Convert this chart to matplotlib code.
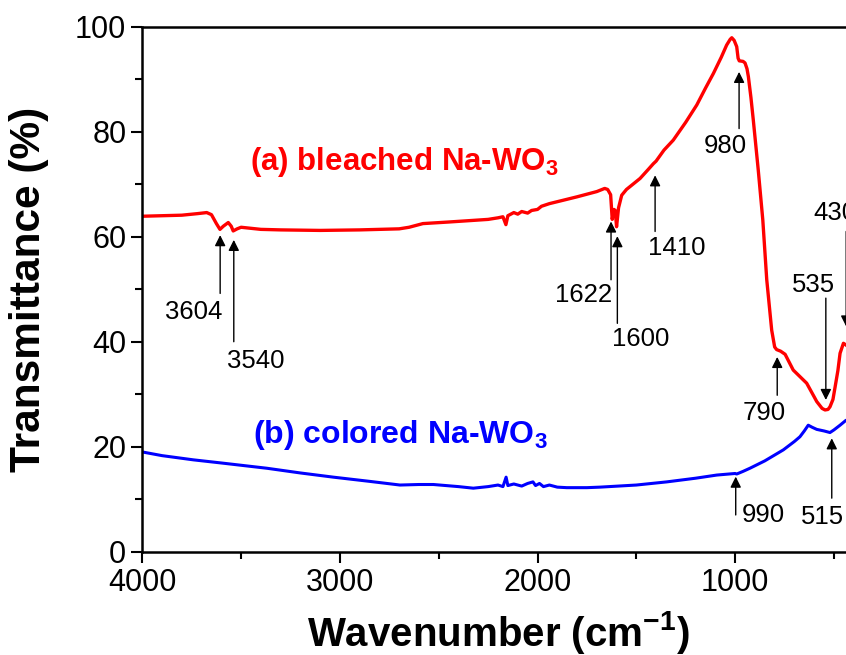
import numpy as np
import matplotlib
matplotlib.use("Agg")
import matplotlib.pyplot as plt

plt.rcParams["font.family"] = ["Liberation Sans", "DejaVu Sans"]
plt.rcParams["mathtext.fontset"] = "custom"
plt.rcParams["mathtext.rm"] = "Liberation Sans"
plt.rcParams["mathtext.bf"] = "Liberation Sans:bold"

# (a) bleached Na-WO3
wn_a = [4000, 3900, 3800, 3720, 3674, 3650, 3625, 3607, 3590, 3565, 3550, 3540,
        3520, 3500, 3450, 3400, 3300, 3100, 2900, 2700, 2650, 2580, 2450, 2330,
        2250, 2200, 2175, 2160, 2150, 2120, 2100, 2080, 2050, 2030, 2000, 1980,
        1940, 1886, 1800, 1700, 1660, 1645, 1630, 1622, 1613, 1607, 1600, 1590,
        1574, 1550, 1481, 1440, 1414, 1400, 1360, 1313, 1250, 1194, 1150, 1110,
        1070, 1043, 1025, 1017, 1005, 992, 985, 979, 960, 950, 940, 933, 920,
        908, 883, 860, 840, 815, 800, 790, 770, 747, 706, 638, 600, 587, 560,
        545, 530, 520, 505, 494, 480, 469, 452, 440, 420, 400]
t_a = [63.9, 64.0, 64.1, 64.4, 64.6, 64.2, 62.5, 61.4, 62.0, 62.7, 62.0, 61.1,
       61.5, 61.8, 61.6, 61.4, 61.3, 61.2, 61.3, 61.5, 61.8, 62.5, 62.8, 63.1,
       63.3, 63.6, 63.8, 62.3, 64.0, 64.6, 64.3, 64.8, 64.5, 65.0, 65.2, 65.8,
       66.3, 66.8, 67.6, 68.6, 69.2, 69.0, 68.0, 63.3, 65.2, 65.0, 61.9, 65.5,
       67.9, 69.0, 71.1, 72.8, 73.9, 74.4, 76.5, 78.4, 81.8, 85.1, 88.3, 91.1,
       94.2, 96.5, 97.6, 97.9, 97.4, 96.2, 94.0, 93.5, 93.4, 93.1, 92.0, 90.5,
       86.5, 82.2, 72.7, 63.2, 51.8, 42.2, 39.0, 38.5, 38.2, 37.6, 34.6, 32.1,
       29.5, 28.6, 27.3, 27.0, 27.1, 27.6, 29.0, 31.4, 34.5, 37.8, 39.7, 39.4,
       38.8, 38.0]

# (b) colored Na-WO3
wn_b = [4000, 3900, 3742, 3600, 3370, 3200, 3033, 2850, 2696, 2600, 2527, 2400,
        2325, 2250, 2200, 2175, 2159, 2150, 2120, 2080, 2050, 2023, 2010, 1990,
        1970, 1940, 1900, 1852, 1750, 1684, 1500, 1346, 1200, 1093, 1000, 992,
        960, 925, 850, 756, 700, 672, 650, 630, 610, 587, 550, 520, 500, 469,
        440, 420, 400]
t_b = [19.0, 18.3, 17.5, 16.9, 15.9, 15.0, 14.2, 13.4, 12.7, 12.8, 12.8, 12.4,
       12.1, 12.4, 12.7, 12.4, 14.2, 12.6, 12.9, 12.5, 13.0, 13.3, 12.6, 13.0,
       12.4, 12.7, 12.3, 12.2, 12.2, 12.3, 12.7, 13.3, 14.0, 14.6, 14.9, 14.8,
       15.3, 15.9, 17.3, 19.4, 21.0, 21.9, 23.0, 24.1, 23.7, 23.3, 23.0, 22.7,
       23.2, 24.1, 25.0, 25.3, 25.6]

# peak labels: text, arrow tip (wn, T), arrow tail (wn, T), text position (wn, T)
peak_labels = ["3604", "3540", "1622", "1600", "1410", "980", "790", "535", "430", "990", "515"]
arrow_tip = [(3606, 60.3), (3537, 59.4), (1628, 62.9), (1596, 60.1), (1405, 71.7),
             (980, 91.4), (787, 37.1), (541, 28.9), (438, 42.9), (997, 14.3), (511, 21.6)]
arrow_tail = [(3606, 49.2), (3537, 40.0), (1628, 51.8), (1596, 43.5), (1405, 61.0),
              (980, 80.6), (787, 29.8), (541, 48.3), (438, 61.0), (997, 7.0), (511, 10.2)]
label_pos = [(3741, 45.7), (3426, 36.3), (1767, 48.9), (1480, 40.6), (1294, 57.8),
             (1050, 77.3), (854, 26.4), (604, 50.8), (495, 64.5), (857, 7.0), (557, 6.7)]

fig = plt.figure(figsize=(8.46, 6.55), dpi=100)
ax = fig.add_axes([0.1682, 0.1577, 0.8409, 0.8015])

ax.plot(wn_a, t_a, color="#ff0000", lw=2.4)
ax.plot(wn_b, t_b, color="#0000ff", lw=2.2)

for lab, tip, tail, pos in zip(peak_labels, arrow_tip, arrow_tail, label_pos):
    ax.annotate("", xy=tip, xytext=tail,
                arrowprops=dict(arrowstyle="-|>", color="black", lw=1.0,
                                mutation_scale=16, shrinkA=0, shrinkB=0))
    ax.text(pos[0], pos[1], lab, fontsize=18.5, ha="center", va="center")

ax.text(3455, 72.7, r"(a) bleached Na-WO$_\mathbf{3}$", color="#ff0000",
        fontsize=22.5, fontweight="bold", ha="left", va="baseline")
ax.text(3439, 20.7, r"(b) colored Na-WO$_\mathbf{3}$", color="#0000ff",
        fontsize=23, fontweight="bold", ha="left", va="baseline")

ax.set_xlim(4000, 400)
ax.set_ylim(0, 100)
ax.set_xticks([4000, 3000, 2000, 1000])
ax.set_xticks([3500, 2500, 1500, 500], minor=True)
ax.set_yticks([0, 20, 40, 60, 80, 100])
ax.set_yticks([10, 30, 50, 70, 90], minor=True)
ax.tick_params(which="major", direction="out", length=8, width=1.5, labelsize=22,
               top=False, right=False)
ax.tick_params(which="minor", direction="out", length=5, width=1.5,
               top=False, right=False)
for s in ax.spines.values():
    s.set_linewidth(1.8)

ax.set_xlabel(r"Wavenumber (cm$^{\mathbf{-1}}$)", fontsize=29, fontweight="bold", labelpad=8)
ax.set_ylabel("Transmittance (%)", fontsize=30.5, fontweight="bold", labelpad=19)

fig.savefig("out.png", dpi=100)
